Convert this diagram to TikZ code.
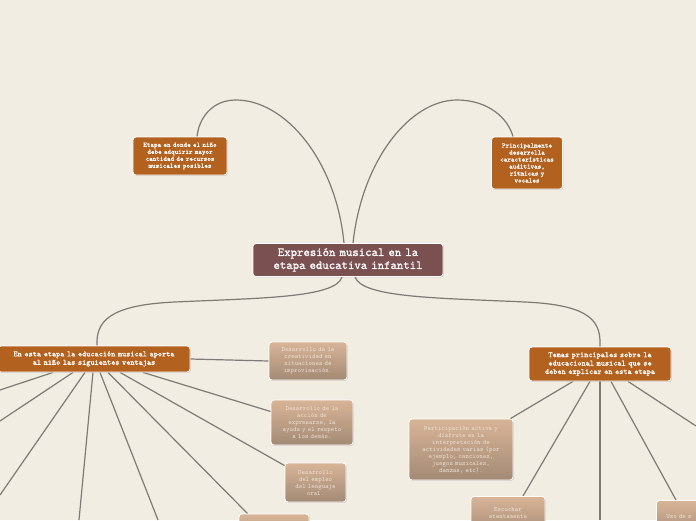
\documentclass[tikz,border=0pt]{standalone}
\usepackage{fontspec}
\newfontfamily\monob{lmmono10-regular.otf}[FakeBold=1.6]
\newfontfamily\monor{lmmono10-regular.otf}
\usetikzlibrary{shadows}
\definecolor{bgc}{HTML}{F2EDE2}
\definecolor{orangec}{HTML}{B2611F}
\definecolor{centerc}{HTML}{7A5051}
\definecolor{lighttop}{HTML}{D8B497}
\definecolor{lightbot}{HTML}{A38A75}
\definecolor{lighttext}{HTML}{F1E6DA}
\definecolor{linec}{HTML}{7E7A75}
\pgfdeclarelayer{back}
\pgfsetlayers{back,main}
\begin{document}
\begin{tikzpicture}[x=1pt,y=-1pt,
  box/.style={rounded corners=3pt, draw=white, line width=0.8pt,
    drop shadow={opacity=0.3,shadow xshift=0.8pt,shadow yshift=-0.9pt},
    inner sep=1pt, align=center, text=white},
  dark/.style={box, fill=orangec, font=\monob\bfseries\fontsize{6.8}{7}\selectfont},
  bigdark/.style={box, fill=orangec, font=\monob\bfseries\fontsize{7.9}{8.4}\selectfont},
  lightbox/.style={box, top color=lighttop, bottom color=lightbot, text=lighttext,
    font=\monor\fontsize{6.6}{7}\selectfont},
  conn/.style={draw=linec, line width=1.2pt}
]
\useasboundingbox (0,0) rectangle (696,520);
\clip (0,0) rectangle (696,520);

% nodes
\node[box, fill=centerc, minimum width=190pt, minimum height=33pt, text width=188pt,
  font=\monob\fontsize{12.2}{13}\selectfont, text=white!95!centerc] (c) at (348,260)
  {Expresión musical en la\\etapa educativa infantil};

\node[dark, minimum width=94pt, minimum height=38pt, text width=92pt] (tl) at (180,156)
  {Etapa en donde el niño\\debe adquirir mayor\\cantidad de recursos\\musicales posibles};

\node[dark, minimum width=71pt, minimum height=52pt, text width=69pt] (tr) at (527,163)
  {Principalmente\\desarrolla\\características\\auditivas,\\rítmicas y\\vocales};

\node[bigdark, minimum width=192pt, minimum height=26pt, text width=190pt] (lb) at (94,359)
  {En esta etapa la educación musical aporta\\al niño las siguientes ventajas};

\node[bigdark, minimum width=142pt, minimum height=34pt, text width=140pt] (rb) at (600,364)
  {Temas principales sobre la\\educacional musical que se\\deben explicar en esta etapa};

\node[lightbox, minimum width=78pt, minimum height=38pt, text width=76pt] (l1) at (308,361)
  {Desarrollo de la\\creatividad en\\situaciones de\\improvisación.};

\node[lightbox, minimum width=82pt, minimum height=45pt, text width=80pt] (l2) at (312,422.5)
  {Desarrollo de la\\acción de\\expresarse, la\\ayuda y el respeto\\a los demás.};

\node[lightbox, minimum width=61pt, minimum height=39pt, text width=59pt] (l3) at (315.5,482.5)
  {Desarrollo\\del empleo\\del lenguaje\\oral.};

\node[lightbox, minimum width=70pt, minimum height=40pt, text width=66pt] (l4) at (274,534) {};

\node[lightbox, minimum width=104pt, minimum height=61pt, text width=102pt] (l5) at (461,449.5)
  {Participación activa y\\disfrute en la\\interpretación de\\actividades varias (por\\ejemplo, canciones,\\juegos musicales,\\danzas, etc).};

\node[lightbox, minimum width=74pt, minimum height=40pt, text width=72pt, anchor=north] (l6) at (508,496)
  {Escuchar\\atentamente\\obras musicales};

\node[lightbox, minimum width=80pt, minimum height=40pt, text width=72pt, align=left, anchor=north west] (l7) at (656,500)
  {\hspace*{6pt}Uso de s\\\hspace*{6pt}encontra};

% off-canvas ends
\coordinate (e1) at (0,390);
\coordinate (e2) at (0,421);
\coordinate (e3) at (0,495);
\coordinate (e4) at (79,520);
\coordinate (e5) at (158,520);
\coordinate (e6) at (600,520);
\coordinate (e7) at (696,426);

\begin{pgfonlayer}{back}
\fill[bgc] (0,0) rectangle (696,520);
% curves from the central node
\draw[conn] ([xshift=-4pt]c.north) .. controls (336,160) and (285,100) .. (236,100)
  .. controls (212,100) and (199,118) .. ([xshift=17pt]tl.north);
\draw[conn] ([xshift=5pt]c.north) .. controls (362,160) and (410,100) .. (457,100)
  .. controls (488,100) and (508,118) .. ([xshift=-14pt]tr.north);
\draw[conn] ([xshift=-6pt]c.south) .. controls (336,298) and (260,298) .. (175,302)
  .. controls (108,305) and (96,322) .. ([xshift=3pt]lb.north);
\draw[conn] ([xshift=7pt]c.south) .. controls (362,298) and (440,298) .. (525,302)
  .. controls (592,305) and (601,322) .. (rb.north);
% left fan
\draw[conn] (lb.east) -- (l1.west);
\draw[conn] ([xshift=-41pt]lb.south) -- (e1);
\draw[conn] ([xshift=-21pt]lb.south) -- (e2);
\draw[conn] ([xshift=-9pt]lb.south) -- (e3);
\draw[conn] ([xshift=-1pt]lb.south) -- (e4);
\draw[conn] ([xshift=6pt]lb.south) -- (e5);
\draw[conn] ([xshift=14pt]lb.south) -- ([xshift=9pt]l4.north west);
\draw[conn] ([xshift=26pt]lb.south) -- ([yshift=-3pt]l3.north west);
\draw[conn] ([xshift=49pt]lb.south) -- ([yshift=11pt]l2.west);
% right fan
\draw[conn] ([xshift=-27pt]rb.south) -- ([xshift=-3pt]l5.north east);
\draw[conn] ([xshift=-10pt]rb.south) -- ([xshift=15pt]l6.north);
\draw[conn] (rb.south) -- (e6);
\draw[conn] ([xshift=11pt]rb.south) -- ([xshift=20pt]l7.north west);
\draw[conn] ([xshift=28pt]rb.south) -- (e7);
\end{pgfonlayer}
\end{tikzpicture}
\end{document}
